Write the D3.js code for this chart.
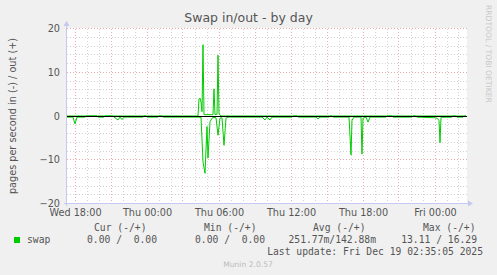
<!DOCTYPE html>
<html>
<head>
<meta charset="utf-8">
<script src="https://cdn.jsdelivr.net/npm/d3@7"></script>
<style>
  body { margin: 0; background: #f0f0f0; }
  svg { display: block; }
  .grid line { shape-rendering: crispEdges; stroke-dasharray: 1,2; }
  .grid path { display: none; }
  .labels path, .labels line { display: none; }
  .labels text { font-family: "DejaVu Sans"; font-size: 9.7px; fill: #555; }
  .legend { font-family: "DejaVu Sans Mono"; font-size: 9.7px; fill: #555; white-space: pre; }
</style>
</head>
<body>
<div id="app"></div>
<script>
const W = 497, H = 275
const PLOT = { left: 67, right: 467, top: 28.5, bottom: 203.5 }

const TITLE = "Swap in/out - by day"
const Y_LABEL = "pages per second in (-) / out (+)"
const X_DOMAIN = ["2025-12-17 17:20", "2025-12-19 02:40"]
const Y_TICKS = [-20, -10, 0, 10, 20]

// swap in (graphed negative)
const inTimes = [
  "2025-12-17 17:20", "2025-12-17 17:50", "2025-12-17 18:00", "2025-12-17 18:10",
  "2025-12-17 18:50", "2025-12-17 18:55", "2025-12-17 19:50", "2025-12-17 19:55",
  "2025-12-17 20:25", "2025-12-17 20:30", "2025-12-17 21:10", "2025-12-17 21:15",
  "2025-12-17 21:35", "2025-12-17 21:45", "2025-12-17 21:55", "2025-12-17 22:05",
  "2025-12-17 23:40", "2025-12-17 23:45", "2025-12-17 23:55", "2025-12-18 00:00",
  "2025-12-18 00:55", "2025-12-18 01:00", "2025-12-18 01:15", "2025-12-18 01:20",
  "2025-12-18 04:15", "2025-12-18 04:30", "2025-12-18 04:40", "2025-12-18 04:50",
  "2025-12-18 05:00", "2025-12-18 05:05", "2025-12-18 05:15", "2025-12-18 05:25",
  "2025-12-18 05:35", "2025-12-18 05:45", "2025-12-18 05:55", "2025-12-18 06:05",
  "2025-12-18 06:15", "2025-12-18 06:25", "2025-12-18 06:35", "2025-12-18 06:45",
  "2025-12-18 09:35", "2025-12-18 09:50", "2025-12-18 10:00", "2025-12-18 10:15",
  "2025-12-18 10:25", "2025-12-18 12:05", "2025-12-18 12:10", "2025-12-18 12:30",
  "2025-12-18 12:35", "2025-12-18 14:05", "2025-12-18 14:15", "2025-12-18 14:25",
  "2025-12-18 15:10", "2025-12-18 15:15", "2025-12-18 15:25", "2025-12-18 15:30",
  "2025-12-18 16:50", "2025-12-18 17:00", "2025-12-18 17:05", "2025-12-18 17:15",
  "2025-12-18 17:50", "2025-12-18 17:55", "2025-12-18 18:00", "2025-12-18 18:15",
  "2025-12-18 18:25", "2025-12-18 18:35", "2025-12-18 19:55", "2025-12-18 20:00",
  "2025-12-18 20:25", "2025-12-18 20:30", "2025-12-18 22:05", "2025-12-18 22:10",
  "2025-12-18 22:25", "2025-12-18 22:30", "2025-12-19 00:00", "2025-12-19 00:10",
  "2025-12-19 00:20", "2025-12-19 00:25", "2025-12-19 00:30", "2025-12-19 01:25",
  "2025-12-19 01:30", "2025-12-19 01:45", "2025-12-19 01:50", "2025-12-19 02:20",
  "2025-12-19 02:25", "2025-12-19 02:35"
]
const inValues = [
  0.25, 0.25, 1.8, 0.25,
  0.25, 0, 0, 0.25,
  0.25, 0, 0, 0.25,
  0.9, 0.25, 0.8, 0.25,
  0.25, 0, 0, 0.25,
  0.25, 0, 0, 0.25,
  0.25, 0.3, 10.5, 13.1,
  2.4, 9.6, 1.3, 0.5,
  0.3, 0.4, 4.4, 0.5,
  0.4, 6.7, 0.5, 0.25,
  0.25, 0.9, 0.25, 0.9,
  0.25, 0.25, 0, 0,
  0.25, 0.25, 0.7, 0.25,
  0.25, 0, 0, 0.25,
  0.25, 8.9, 1.0, 0.25,
  0.25, 8.7, 0.5, 0.25,
  1.4, 0.25, 0.25, 0,
  0, 0.25, 0.25, 0,
  0, 0.25, 0.4, 0.5,
  1.0, 6.1, 0.3, 0.25,
  0, 0, 0.25, 0.25,
  0, 0
]

// swap out (graphed positive)
const outTimes = [
  "2025-12-17 17:20", "2025-12-18 04:15", "2025-12-18 04:20", "2025-12-18 04:25",
  "2025-12-18 04:30", "2025-12-18 04:35", "2025-12-18 04:40", "2025-12-18 04:45",
  "2025-12-18 05:30", "2025-12-18 05:35", "2025-12-18 05:40", "2025-12-18 05:50",
  "2025-12-18 05:55", "2025-12-18 06:00", "2025-12-18 06:10", "2025-12-19 02:35"
]
const outValues = [
  0, 0, 3.9, 4.1,
  3.2, 1.0, 16.3, 0.3,
  0.3, 6.2, 0.3, 0.4,
  13.9, 0.5, 0, 0
]

const LEGEND_HEAD = ["Cur (-/+)", "Min (-/+)", "Avg (-/+)", "Max (-/+)"]
const LEGEND_VALS = ["0.00 /  0.00", "0.00 /  0.00", "251.77m/142.88m", "13.11 / 16.29"]
const SERIES_NAME = "swap"
const LAST_UPDATE = "Last update: Fri Dec 19 02:35:05 2025"
const VERSION = "Munin 2.0.57"
const WATERMARK = "RRDTOOL / TOBI OETIKER"

const parse = d3.timeParse("%Y-%m-%d %H:%M")
const crisp = v => Math.floor(v) + 0.5

const xScale = d3.scaleTime()
  .domain(X_DOMAIN.map(parse))
  .range([PLOT.left, PLOT.right])

const yScale = d3.scaleLinear()
  .domain([-20, 20])
  .range([PLOT.bottom, PLOT.top])

const line = d3.line()
  .x(d => xScale(d.t))
  .y(d => yScale(d.v))

const svg = d3.select('#app')
  .append('svg')
  .attr('width', W)
  .attr('height', H)

svg.append('rect')
  .attr('width', W).attr('height', H)
  .attr('fill', '#f0f0f0')

svg.append('rect')
  .attr('x', PLOT.left).attr('y', PLOT.top - 0.5)
  .attr('width', PLOT.right - PLOT.left)
  .attr('height', PLOT.bottom - PLOT.top + 0.5)
  .attr('fill', '#fff')

const plotH = PLOT.bottom - PLOT.top
const plotW = PLOT.right - PLOT.left

// vertical grid: minor every hour, major every 3 hours
const addXGrid = (interval, color) => {
  const g = svg.append('g')
    .attr('class', 'grid')
    .attr('transform', `translate(0, ${PLOT.bottom})`)
    .call(d3.axisBottom(xScale).ticks(interval).tickSize(-plotH).tickFormat(''))
  g.selectAll('.tick').attr('transform', d => `translate(${crisp(xScale(d))}, 0)`)
  g.selectAll('line').attr('stroke', color)
}
const addYGrid = (values, color) => {
  const g = svg.append('g')
    .attr('class', 'grid')
    .attr('transform', `translate(${PLOT.left}, 0)`)
    .call(d3.axisLeft(yScale).tickValues(values).tickSize(-plotW).tickFormat(''))
  g.selectAll('.tick').attr('transform', d => `translate(0, ${crisp(yScale(d))})`)
  g.selectAll('line').attr('stroke', color)
}

addXGrid(d3.timeHour.every(1), '#d2d2d2')
addYGrid(d3.range(-20, 21, 2).filter(v => v % 10 !== 0), '#d2d2d2')
addXGrid(d3.timeHour.every(3), '#eeaaaa')
addYGrid(Y_TICKS.filter(v => v !== 0 && v !== -20), '#eeaaaa')

// axis labels
const xLabels = svg.append('g')
  .attr('class', 'labels')
  .attr('transform', `translate(0, ${PLOT.bottom})`)
  .call(d3.axisBottom(xScale).ticks(d3.timeHour.every(6)).tickSize(0)
    .tickFormat(d3.timeFormat('%a %H:%M')))
xLabels.selectAll('text').attr('dy', null).attr('y', 12.5)

const yLabels = svg.append('g')
  .attr('class', 'labels')
  .attr('transform', `translate(${PLOT.left}, 0)`)
  .call(d3.axisLeft(yScale).tickValues(Y_TICKS).tickSize(0).tickPadding(7))

// series
const inData = inTimes.map((t, i) => ({ t: parse(t), v: -inValues[i] }))
const outData = outTimes.map((t, i) => ({ t: parse(t), v: outValues[i] }))

svg.append('path')
  .datum(inData)
  .attr('fill', 'none')
  .attr('stroke', '#00cc00')
  .attr('stroke-width', 1)
  .attr('d', line)
svg.append('path')
  .datum(outData)
  .attr('fill', 'none')
  .attr('stroke', '#00cc00')
  .attr('stroke-width', 1)
  .attr('d', line)

// zero line
svg.append('line')
  .attr('x1', PLOT.left).attr('x2', PLOT.right)
  .attr('y1', crisp(yScale(0))).attr('y2', crisp(yScale(0)))
  .attr('stroke', '#000')
  .attr('shape-rendering', 'crispEdges')

// axes with arrows
const AXIS_COLOR = '#c4c8f2'
svg.append('line')
  .attr('x1', PLOT.left - 0.5).attr('x2', PLOT.left - 0.5)
  .attr('y1', PLOT.bottom + 2).attr('y2', PLOT.top - 3)
  .attr('stroke', AXIS_COLOR).attr('shape-rendering', 'crispEdges')
svg.append('path')
  .attr('d', `M${PLOT.left - 3.5},${PLOT.top - 2.5} L${PLOT.left + 2.5},${PLOT.top - 2.5} L${PLOT.left - 0.5},${PLOT.top - 7.5} Z`)
  .attr('fill', AXIS_COLOR)
svg.append('line')
  .attr('x1', PLOT.left - 3).attr('x2', PLOT.right + 2)
  .attr('y1', PLOT.bottom).attr('y2', PLOT.bottom)
  .attr('stroke', AXIS_COLOR).attr('shape-rendering', 'crispEdges')
svg.append('path')
  .attr('d', `M${PLOT.right + 1},${PLOT.bottom - 3} L${PLOT.right + 1},${PLOT.bottom + 3} L${PLOT.right + 6},${PLOT.bottom} Z`)
  .attr('fill', AXIS_COLOR)

// texts
svg.append('text')
  .attr('x', 248.5).attr('y', 22)
  .attr('text-anchor', 'middle')
  .attr('font-family', 'DejaVu Sans').attr('font-size', 12.5)
  .attr('fill', '#555')
  .text(TITLE)

svg.append('text')
  .attr('transform', `translate(15.5, ${(PLOT.top + PLOT.bottom) / 2}) rotate(-90)`)
  .attr('text-anchor', 'middle')
  .attr('font-family', 'DejaVu Sans').attr('font-size', 9.7)
  .attr('fill', '#555')
  .text(Y_LABEL)

svg.append('text')
  .attr('transform', `translate(485.5, 5) rotate(90)`)
  .attr('font-family', 'DejaVu Sans').attr('font-size', 7.6)
  .attr('fill', '#c8c8c8')
  .text(WATERMARK)

// legend
const HEAD_X = [94, 204, 313, 423]
const VAL_X = [157, 265, 376, 477]
svg.append('rect')
  .attr('x', 14).attr('y', 237).attr('width', 6).attr('height', 6)
  .attr('fill', '#00cc00')
svg.append('text').attr('class', 'legend')
  .attr('x', 27).attr('y', 243).text(SERIES_NAME)
svg.selectAll('.lhead')
  .data(LEGEND_HEAD).join('text')
  .attr('class', 'legend lhead')
  .attr('x', (d, i) => HEAD_X[i]).attr('y', 231)
  .text(d => d)
svg.selectAll('.lval')
  .data(LEGEND_VALS).join('text')
  .attr('class', 'legend lval')
  .attr('x', (d, i) => VAL_X[i]).attr('y', 243)
  .attr('text-anchor', 'end')
  .text(d => d)
svg.append('text').attr('class', 'legend')
  .attr('x', 483).attr('y', 255)
  .attr('text-anchor', 'end')
  .text(LAST_UPDATE)
svg.append('text')
  .attr('x', 248).attr('y', 267)
  .attr('text-anchor', 'middle')
  .attr('font-family', 'DejaVu Sans').attr('font-size', 7.6)
  .attr('fill', '#bbb')
  .text(VERSION)
</script>
</body>
</html>
